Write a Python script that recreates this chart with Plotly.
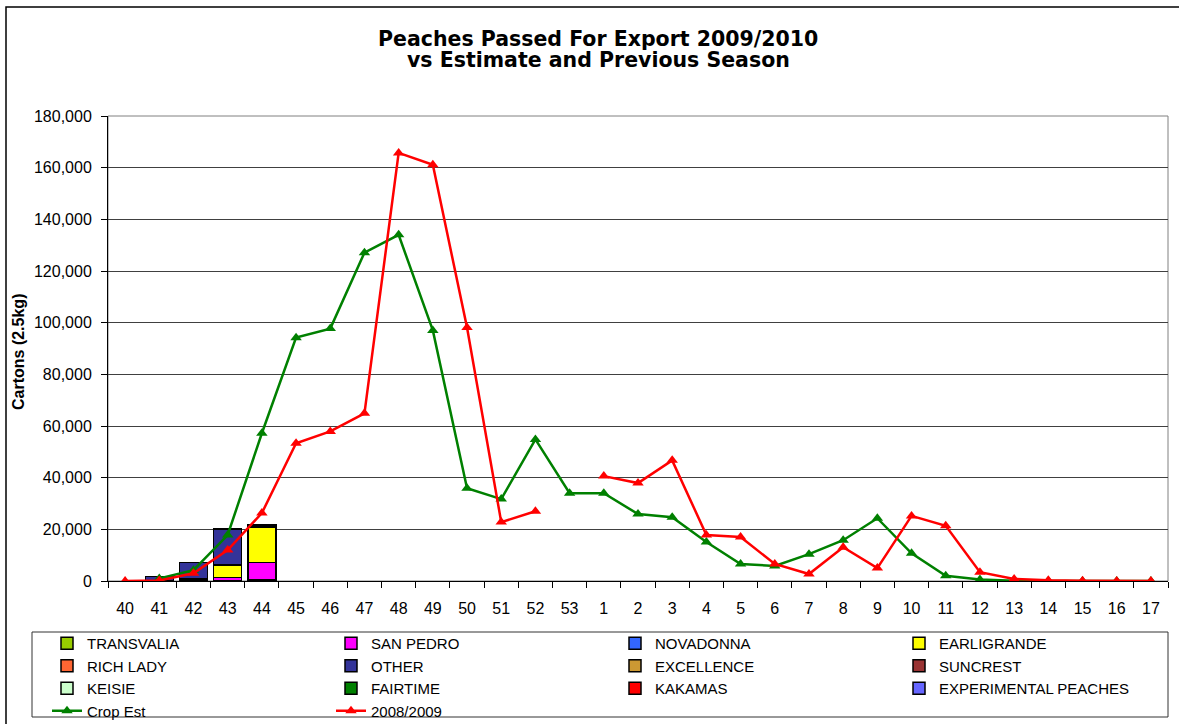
import plotly.graph_objects as go

weeks = ["40", "41", "42", "43", "44", "45", "46", "47", "48", "49", "50", "51", "52", "53",
         "1", "2", "3", "4", "5", "6", "7", "8", "9", "10", "11", "12", "13", "14", "15", "16", "17"]

# Stacked variety volumes (cartons) - only weeks 41-44 have shipments
bar_weeks = ["41", "42", "43", "44"]
transvalia = [0, 800, 0, 500]
san_pedro = [0, 0, 1400, 6700]
novadonna = [0, 0, 0, 0]
earligrande = [0, 0, 4700, 13800]
rich_lady = [0, 0, 0, 0]
other = [1800, 6400, 14000, 700]
excellence = [0, 0, 0, 0]
suncrest = [0, 0, 0, 0]
keisie = [0, 0, 0, 0]
fairtime = [0, 0, 0, 0]
kakamas = [0, 0, 0, 0]
experimental = [0, 0, 0, 0]

crop_est = [None, 1000, 4200, 17800, 57200, 94200, 97700, 127100, 134000, 97000, 35900, 31700, 54800, 34000,
            34000, 25900, 24700, 15100, 6600, 5800, 10400, 15800, 24300, 10700, 2000, 600, 100, 0, 0, 0, 0]
prev_season = [0, 200, 3000, 12000, 26300, 53300, 57900, 64900, 165700, 161100, 98100, 22800, 27000, None,
               40600, 37900, 46700, 17800, 17000, 6600, 2700, 13100, 5000, 25200, 21400, 3400, 800, 300, 100, 0, 0]

varieties = [
    ("TRANSVALIA", transvalia, "#99CC00"),
    ("SAN PEDRO", san_pedro, "#FF00FF"),
    ("NOVADONNA", novadonna, "#3366FF"),
    ("EARLIGRANDE", earligrande, "#FFFF00"),
    ("RICH LADY", rich_lady, "#FF6633"),
    ("OTHER", other, "#333399"),
    ("EXCELLENCE", excellence, "#CC9933"),
    ("SUNCREST", suncrest, "#993333"),
    ("KEISIE", keisie, "#CCFFCC"),
    ("FAIRTIME", fairtime, "#008000"),
    ("KAKAMAS", kakamas, "#FF0000"),
    ("EXPERIMENTAL PEACHES", experimental, "#6666FF"),
]

FONT = "Liberation Sans, Arial, sans-serif"
TITLE_FONT = "DejaVu Sans, Liberation Sans, Arial, sans-serif"

fig = go.Figure()
for name, vals, col in varieties:
    fig.add_trace(go.Bar(x=bar_weeks, y=vals, name=name,
                         marker=dict(color=col, line=dict(color="black", width=1.5))))

fig.add_trace(go.Scatter(x=weeks, y=crop_est, name="Crop Est", mode="lines+markers",
                         line=dict(color="#008000", width=2.5),
                         marker=dict(symbol="triangle-up", size=10, color="#008000")))
fig.add_trace(go.Scatter(x=weeks, y=prev_season, name="2008/2009", mode="lines+markers",
                         line=dict(color="#FF0000", width=2.5),
                         marker=dict(symbol="triangle-up", size=10, color="#FF0000")))

L, R, T, B = 108, 11, 116, 143
W, H = 1179, 724
pw, ph = W - L - R, H - T - B


def px(x):
    return (x - L) / pw


def py(y):
    return (H - B - y) / ph


fig.update_layout(
    width=W, height=H,
    margin=dict(l=L, r=R, t=T, b=B, autoexpand=False),
    paper_bgcolor="white", plot_bgcolor="white",
    barmode="stack", bargap=0.18,
    font=dict(family=FONT, size=16, color="black"),
    showlegend=True,
    legend=dict(orientation="h", x=px(47), y=py(627), xanchor="left", yanchor="top",
                entrywidth=239, entrywidthmode="pixels", traceorder="normal",
                font=dict(size=15), bgcolor="rgba(0,0,0,0)", borderwidth=0),
    xaxis=dict(type="category", categoryorder="array", categoryarray=weeks,
               range=[-0.5, len(weeks) - 0.5],
               showgrid=False, showline=True, linecolor="black", linewidth=1,
               ticks="outside", ticklen=6, tickcolor="black", tickson="boundaries",
               ticklabelstandoff=13, tickfont=dict(size=16)),
    yaxis=dict(range=[0, 180000], dtick=20000, tickformat=",",
               showgrid=True, gridcolor="#404040", gridwidth=1,
               showline=True, linecolor="black", linewidth=1,
               ticks="outside", ticklen=6, tickcolor="black",
               ticklabelstandoff=6, tickfont=dict(size=16), zeroline=False),
    annotations=[
        dict(text="<b>Peaches Passed For Export 2009/2010</b>", x=px(598), y=py(39), xref="paper", yref="paper",
             xanchor="center", yanchor="middle", showarrow=False,
             font=dict(size=20.5, family=TITLE_FONT)),
        dict(text="<b>vs Estimate and Previous Season</b>", x=px(598), y=py(60), xref="paper", yref="paper",
             xanchor="center", yanchor="middle", showarrow=False,
             font=dict(size=20.5, family=TITLE_FONT)),
        dict(text="<b>Cartons (2.5kg)</b>", x=px(18), y=py(352), xref="paper", yref="paper",
             xanchor="center", yanchor="middle", textangle=-90, showarrow=False, font=dict(size=16)),
    ],
    shapes=[
        dict(type="rect", xref="paper", yref="paper", x0=px(6), x1=px(1190), y0=py(735), y1=py(7),
             line=dict(color="black", width=1.5), fillcolor="rgba(0,0,0,0)", layer="below"),
        dict(type="rect", xref="paper", yref="paper", x0=0, x1=1, y0=0, y1=1,
             line=dict(color="#808080", width=1), fillcolor="rgba(0,0,0,0)", layer="below"),
        dict(type="rect", xref="paper", yref="paper", x0=px(32), x1=px(1168), y0=py(717), y1=py(632),
             line=dict(color="#333333", width=1), fillcolor="rgba(0,0,0,0)", layer="below"),
    ],
)

fig.write_html("out.html", config={"displayModeBar": False},
               post_script="document.body.style.margin='0';")
